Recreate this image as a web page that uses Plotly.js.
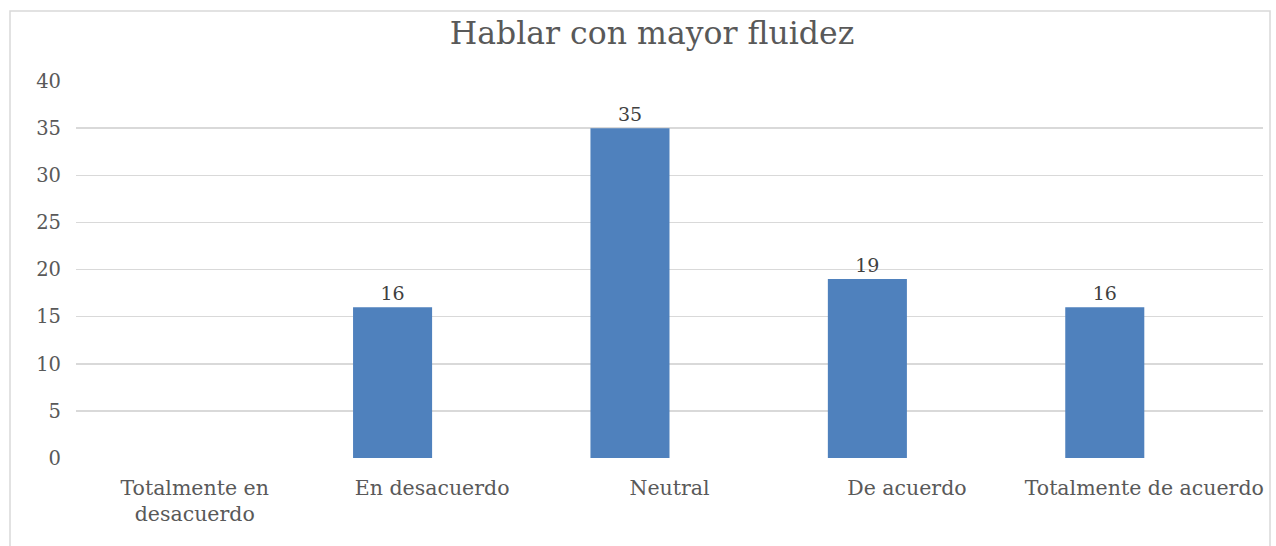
<!DOCTYPE html>
<html>
<head>
<meta charset="utf-8">
<script src="https://cdn.plot.ly/plotly-3.0.1.min.js"></script>
<style>
  html, body { margin: 0; padding: 0; background: #ffffff; }
  #chart { width: 1276px; height: 546px; }
</style>
</head>
<body>
<div id="chart"></div>
<script>
const categories = ["Totalmente en<br>desacuerdo", "En desacuerdo", "Neutral", "De acuerdo", "Totalmente de acuerdo"];
const values = [null, 16, 35, 19, 16];
const valueLabels = ["", "16", "35", "19", "16"];
const yTicks = [0, 5, 10, 15, 20, 25, 30, 35, 40];
const chartTitle = "Hablar con mayor fluidez";

const fontFamily = "'DejaVu Serif', 'Liberation Serif', serif";
const textColor = "#595959";

const trace = {
  type: "bar",
  x: categories,
  y: values,
  text: valueLabels,
  textposition: "outside",
  cliponaxis: false,
  textfont: { family: fontFamily, size: 19, color: "#404040" },
  marker: { color: "#4f81bd", line: { width: 0 } },
  width: 0.333,
  offset: -0.333,
  hoverinfo: "x+y"
};

const layout = {
  width: 1276,
  height: 546,
  margin: { l: 76, r: 13, t: 81, b: 88 },
  paper_bgcolor: "#ffffff",
  plot_bgcolor: "#ffffff",
  showlegend: false,
  title: {
    text: chartTitle,
    x: 0.511,
    xanchor: "center",
    y: 0.94,
    yanchor: "middle",
    font: { family: fontFamily, size: 31.5, color: textColor }
  },
  xaxis: {
    type: "category",
    showgrid: false,
    showline: false,
    zeroline: false,
    ticks: "",
    ticklabelstandoff: 15,
    tickfont: { family: fontFamily, size: 20.5, color: textColor },
    tickangle: 0,
    automargin: false
  },
  yaxis: {
    range: [0, 40],
    tickvals: yTicks,
    ticktext: yTicks.map(String),
    showgrid: true,
    gridcolor: "#d9d9d9",
    gridwidth: 1.5,
    zeroline: false,
    showline: false,
    ticks: "",
    ticklabelstandoff: 14,
    tickfont: { family: fontFamily, size: 19.5, color: textColor },
    automargin: false
  },
  shapes: [
    {
      type: "rect",
      xref: "paper", yref: "paper",
      x0: -0.0556, x1: 1.0059,
      y0: -0.3, y1: 1.1857,
      line: { color: "#d9d9d9", width: 1.5 },
      fillcolor: "rgba(0,0,0,0)",
      layer: "below"
    }
  ]
};

Plotly.newPlot("chart", [trace], layout, { displayModeBar: false, staticPlot: true });
</script>
</body>
</html>
